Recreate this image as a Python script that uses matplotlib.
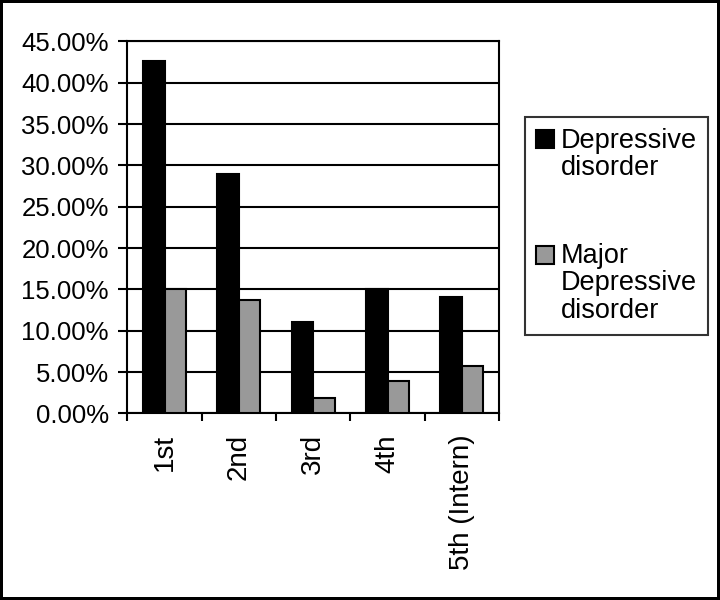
import numpy as np
import matplotlib.pyplot as plt
from matplotlib.container import BarContainer
from matplotlib.legend_handler import HandlerPatch, update_from_first_child

plt.rcParams['font.family'] = ['Liberation Sans', 'DejaVu Sans']

# values
years = ["1st", "2nd", "3rd", "4th", "5th (Intern)"]
depressive = [42.6, 28.9, 11.0, 15.0, 14.1]
major_depressive = [15.0, 13.7, 1.9, 3.9, 5.7]

LINESP = 1.07


class TopAligned(HandlerPatch):
    # put the legend key next to the first line of a multi-line label
    def __init__(self):
        super().__init__(update_func=update_from_first_child)

    def create_artists(self, legend, orig_handle, xdescent, ydescent, width,
                       height, fontsize, trans):
        arts = super().create_artists(legend, orig_handle, xdescent, ydescent,
                                      width, height, fontsize, trans)
        n = orig_handle.get_label().count('\n') + 1
        shift = (n - 1) / 2 * 0.96 * fontsize + 0.12 * fontsize
        for a in arts:
            a.set_y(a.get_y() + shift)
        return arts


fig = plt.figure(figsize=(7.2, 6), dpi=100, edgecolor='black', linewidth=3)
ax = fig.add_axes([0.177, 0.311, 0.516, 0.620])

x = np.arange(len(years))
w = 0.29
ax.bar(x - w / 2, depressive, w, color='black', edgecolor='black', linewidth=1.5,
       label="Depressive\ndisorder", zorder=3)
ax.bar(x + w / 2, major_depressive, w, color='#999999', edgecolor='black', linewidth=1.5,
       label="Major\nDepressive\ndisorder", zorder=3)

ax.set_xlim(-0.5, len(years) - 0.5)
ax.set_ylim(0, 45)
ax.set_yticks(np.arange(0, 46, 5))
ax.set_yticklabels([f"{v:.2f}%" for v in np.arange(0, 46, 5)], fontsize=18.5)
ax.yaxis.grid(True, color='black', linewidth=1.5, zorder=0)

# ticks between categories, labels at centres
ax.set_xticks(np.arange(-0.5, len(years), 1.0))
ax.set_xticklabels([])
ax.set_xticks(x, minor=True)
ax.set_xticklabels(years, minor=True, rotation=90, fontsize=20)
ax.tick_params(axis='x', which='major', length=6, width=1.5)
ax.tick_params(axis='x', which='minor', length=0, pad=15)
ax.tick_params(axis='y', length=6.5, width=1.5, pad=7)

for s in ax.spines.values():
    s.set_linewidth(1.5)

leg = fig.legend(loc='upper left', bbox_to_anchor=(525 / 720, 1 - 117 / 600),
                 borderaxespad=0,
                 fontsize=19.5, frameon=True, fancybox=False, edgecolor='black',
                 handlelength=0.68, handleheight=0.66, handletextpad=0.25,
                 labelspacing=2.28, borderpad=0.4,
                 handler_map={BarContainer: TopAligned()})
leg.get_frame().set_linewidth(1.5)
for t in leg.get_texts():
    t.set_linespacing(LINESP)

fig.savefig("out.png", dpi=100)
